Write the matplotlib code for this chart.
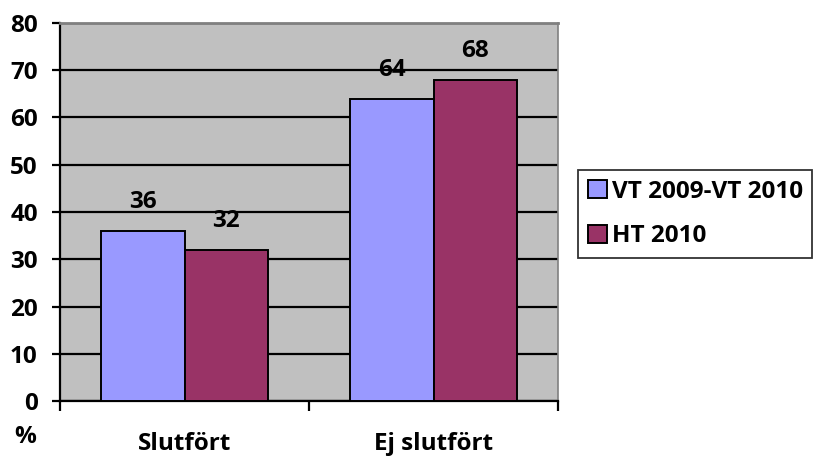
import matplotlib
matplotlib.use('Agg')
import matplotlib.pyplot as plt
import numpy as np

# data
kategorier = ['Slutfört', 'Ej slutfört']
serier = ['VT 2009-VT 2010', 'HT 2010']
vt0910 = [36, 64]
ht2010 = [32, 68]
yticks = [0, 10, 20, 30, 40, 50, 60, 70, 80]

plt.rcParams['font.family'] = ['Open Sans', 'DejaVu Sans']
plt.rcParams['font.weight'] = 'bold'
fs = 17.5

fig = plt.figure(figsize=(8.2, 4.57), dpi=100)
ax = fig.add_axes([0.0732, 0.1225, 0.6073, 0.8272])
ax.set_facecolor('#C0C0C0')

x = np.arange(len(kategorier))
b = 0.335
r1 = ax.bar(x - b / 2, vt0910, b, color='#9999FF', edgecolor='black', linewidth=1.4, label=serier[0], zorder=3)
r2 = ax.bar(x + b / 2, ht2010, b, color='#993366', edgecolor='black', linewidth=1.4, label=serier[1], zorder=3)

# etiketter over staplarna
for rects in (r1, r2):
    for rect in rects:
        h = rect.get_height()
        ax.text(rect.get_x() + rect.get_width() / 2, h + 4.8, str(h),
                ha='center', va='baseline', fontsize=fs, fontweight='bold')

ax.set_xlim(-0.5, 1.5)
ax.set_ylim(0, 80)
ax.set_yticks(yticks)
ax.yaxis.grid(True, color='black', linewidth=1.6, zorder=0)
ax.set_axisbelow(True)

ax.set_xticks([-0.5, 0.5, 1.5])
ax.set_xticklabels([])
ax.set_xticks(x, minor=True)
ax.set_xticklabels(kategorier, minor=True, fontsize=fs, fontweight='bold')
ax.tick_params(axis='x', which='minor', length=0, pad=22)
ax.tick_params(axis='x', which='major', length=7, width=1.6, direction='out')
ax.tick_params(axis='y', length=6, width=1.6, direction='out', labelsize=fs, pad=10)

ax.spines['right'].set_color('#808080')
ax.spines['right'].set_linewidth(1.2)
ax.spines['top'].set_color('#808080')
ax.spines['top'].set_linewidth(2)
ax.spines['left'].set_linewidth(1.6)
ax.spines['bottom'].set_linewidth(1.6)

fig.text(0.017, 0.044, '%', fontsize=fs, fontweight='bold', ha='left', va='center')

leg = fig.legend(loc='upper left', bbox_to_anchor=(0.705, 0.628), fontsize=fs,
                 frameon=True, fancybox=False, edgecolor='black',
                 handlelength=0.78, handleheight=0.78, handletextpad=0.2,
                 labelspacing=0.85, borderpad=0.4, borderaxespad=0)
leg.get_frame().set_linewidth(1.3)
for h in leg.legend_handles:
    h.set_edgecolor('black')
    h.set_linewidth(1.4)

fig.savefig('out.png', dpi=100)
